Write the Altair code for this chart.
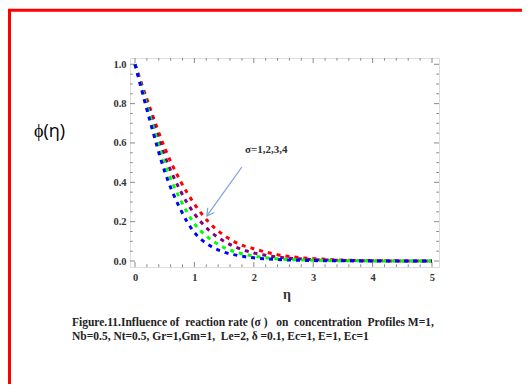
import altair as alt
import pandas as pd

# ---- data ----
eta = [0, 0.25, 0.5, 0.75, 1.0, 1.25, 1.5, 1.75, 2.0, 2.25, 2.5, 2.75,
       3.0, 3.25, 3.5, 3.75, 4.0, 4.25, 4.5, 4.75, 5.0]
phi_sigma1 = [1.0, 0.78, 0.575, 0.415, 0.29, 0.195, 0.13, 0.087, 0.062, 0.042, 0.027,
              0.018, 0.012, 0.008, 0.005, 0.003, 0.002, 0.001, 0.0006, 0.0003, 0.0]
phi_sigma2 = [1.0, 0.76, 0.535, 0.365, 0.24, 0.155, 0.1, 0.064, 0.041, 0.026, 0.017,
              0.011, 0.007, 0.0045, 0.003, 0.002, 0.001, 0.0006, 0.0003, 0.0001, 0.0]
phi_sigma3 = [1.0, 0.74, 0.495, 0.32, 0.19, 0.115, 0.068, 0.041, 0.025, 0.015, 0.009,
              0.006, 0.004, 0.0025, 0.0015, 0.001, 0.0005, 0.0003, 0.0001, 0.0, 0.0]
phi_sigma4 = [1.0, 0.715, 0.455, 0.272, 0.145, 0.08, 0.045, 0.027, 0.016, 0.01, 0.006,
              0.004, 0.002, 0.0015, 0.001, 0.0005, 0.0003, 0.0001, 0.0, 0.0, 0.0]
series = [phi_sigma1, phi_sigma2, phi_sigma3, phi_sigma4]
series_colors = ["#ff0000", "#800080", "#00ff00", "#0000ff"]

x_major = [0, 1, 2, 3, 4, 5]
x_minor = [round(i * 0.2, 2) for i in range(26) if i % 5 != 0]
y_major = [0.0, 0.2, 0.4, 0.6, 0.8, 1.0]
y_minor = [round(i * 0.05, 2) for i in range(21) if i % 4 != 0]

annotation_text = ["σ=1,2,3,4"]
arrow_from = [1.80, 0.478]
arrow_to = [1.21, 0.229]
y_title = ["ϕ(η)"]
x_title = ["η"]
caption_lines = [
    "Figure.11.Influence of\u00a0 reaction rate (σ )\u00a0\u00a0 on\u00a0 concentration\u00a0 Profiles M=1,",
    "Nb=0.5, Nt=0.5, Gr=1,Gm=1,\u00a0 Le=2, δ =0.1, Ec=1, E=1, Ec=1",
]

W, H = 309, 209
SERIF = "Liberation Serif"

xscale = alt.Scale(domain=[-0.0842, 5.118], nice=False, zero=False)
yscale = alt.Scale(domain=[-0.0305, 1.032], nice=False, zero=False)
xaxis = alt.Axis(values=x_major, format="d", ticks=False, domain=False, grid=False,
                 labelFont=SERIF, labelFontWeight="bold", labelFontSize=10.5,
                 labelColor="#333", labelPadding=5, title=None)
yaxis = alt.Axis(values=y_major, format=".1f", ticks=False, domain=False, grid=False,
                 labelFont=SERIF, labelFontWeight="bold", labelFontSize=10.5,
                 labelColor="#333", labelPadding=4, title=None)


def X(field="x"):
    return alt.X(f"{field}:Q", scale=xscale, axis=xaxis)


def Y(field="y"):
    return alt.Y(f"{field}:Q", scale=yscale, axis=yaxis)


layers = []

# red page border
layers.append(
    alt.Chart(pd.DataFrame({"k": [0]})).mark_rect(filled=False, stroke="#ff0000", strokeWidth=3)
    .encode(x=alt.value(-120.5), x2=alt.value(420), y=alt.value(-47.7), y2=alt.value(360))
)

# frame ticks (inward)
tick_color = "#8a8a8a"
for vals, ln in ((x_major, 5), (x_minor, 2.7)):
    d = pd.DataFrame({"x": vals})
    layers.append(alt.Chart(d).mark_rule(color=tick_color, strokeWidth=1)
                  .encode(x=X(), y=alt.value(0), y2=alt.value(ln)))
    layers.append(alt.Chart(d).mark_rule(color=tick_color, strokeWidth=1)
                  .encode(x=X(), y=alt.value(H), y2=alt.value(H - ln)))
for vals, ln in ((y_major, 5), (y_minor, 2.7)):
    d = pd.DataFrame({"y": vals})
    layers.append(alt.Chart(d).mark_rule(color=tick_color, strokeWidth=1)
                  .encode(y=Y(), x=alt.value(0), x2=alt.value(ln)))
    layers.append(alt.Chart(d).mark_rule(color=tick_color, strokeWidth=1)
                  .encode(y=Y(), x=alt.value(W), x2=alt.value(W - ln)))

# curves (red first, blue on top)
for vals, col in zip(series, series_colors):
    d = pd.DataFrame({"x": eta, "y": vals})
    layers.append(alt.Chart(d).mark_line(color=col, strokeWidth=3, strokeDash=[4, 5],
                                         interpolate="monotone")
                  .encode(x=X(), y=Y()))

# arrow
arrow_df = pd.DataFrame({"x": [arrow_from[0]], "y": [arrow_from[1]],
                         "x2": [arrow_to[0]], "y2": [arrow_to[1]]})
layers.append(alt.Chart(arrow_df).mark_rule(color="#7aa3d6", strokeWidth=1.2)
              .encode(x=X(), y=Y(), x2="x2:Q", y2="y2:Q"))
head_df = pd.DataFrame({"x": [arrow_to[0]], "y": [arrow_to[1]]})
layers.append(alt.Chart(head_df).mark_point(shape="M-1.6,-0.9L0,0L-1.6,0.9", filled=False,
                                            color="#7aa3d6", strokeWidth=1.2, size=81,
                                            angle=125.5, opacity=1)
              .encode(x=X(), y=Y()))

# annotation text
layers.append(alt.Chart(pd.DataFrame({"t": annotation_text})).mark_text(
    font=SERIF, fontWeight="bold", fontSize=11, color="#333", align="left", baseline="middle")
    .encode(text="t:N", x=alt.value(115), y=alt.value(92)))

# y title
layers.append(alt.Chart(pd.DataFrame({"t": y_title})).mark_text(
    font="Open Sans", fontSize=18, fontWeight=500, color="#000", align="center", baseline="middle")
    .encode(text="t:N", x=alt.value(-80.5), y=alt.value(74)))

# x title
layers.append(alt.Chart(pd.DataFrame({"t": x_title})).mark_text(
    font=SERIF, fontWeight="bold", fontSize=14, color="#333", align="center", baseline="middle")
    .encode(text="t:N", x=alt.value(157), y=alt.value(237)))

# caption
layers.append(alt.Chart(pd.DataFrame({"t": ["\n".join(caption_lines)]})).mark_text(
    font=SERIF, fontWeight="bold", fontSize=11.5, color="#222", align="left", baseline="middle",
    lineBreak="\n", lineHeight=14)
    .encode(text="t:N", x=alt.value(-58), y=alt.value(265)))

chart = alt.layer(*layers).properties(
    width=W, height=H,
    autosize=alt.AutoSizeParams(type="none"),
    padding={"left": 122, "top": 50, "right": 83, "bottom": 117},
).configure_view(stroke="#9a9a9a", strokeWidth=1).configure(background="white")

chart.save("out.html", embed_options={"renderer": "svg", "actions": False})
